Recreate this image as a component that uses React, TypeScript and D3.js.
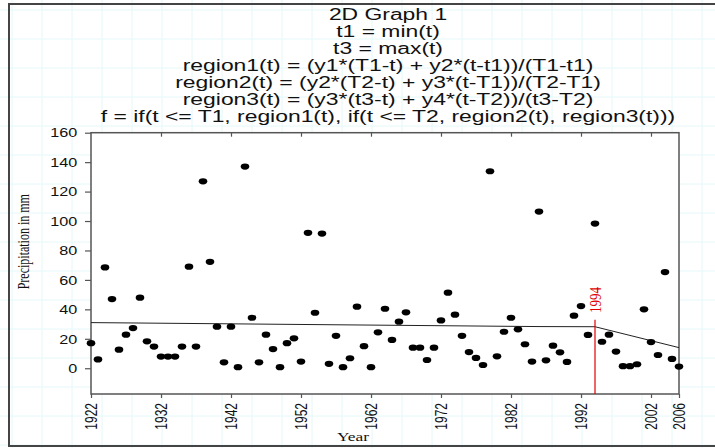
import { useRef, useEffect } from "react";
import * as d3 from "d3";

// annual precipitation (mm)
const years = [
  1922, 1923, 1924, 1925, 1926, 1927, 1928, 1929, 1930, 1931,
  1932, 1933, 1934, 1935, 1936, 1937, 1938, 1939, 1940, 1941,
  1942, 1943, 1944, 1945, 1946, 1947, 1948, 1949, 1950, 1951,
  1952, 1953, 1954, 1955, 1956, 1957, 1958, 1959, 1960, 1961,
  1962, 1963, 1964, 1965, 1966, 1967, 1968, 1969, 1970, 1971,
  1972, 1973, 1974, 1975, 1976, 1977, 1978, 1979, 1980, 1981,
  1982, 1983, 1984, 1985, 1986, 1987, 1988, 1989, 1990, 1991,
  1992, 1993, 1994, 1995, 1996, 1997, 1998, 1999, 2000, 2001,
  2002, 2003, 2004, 2005, 2006,
];

const precipitation = [
  17, 6, 68.5, 47, 12.6, 22.8, 27.3, 47.9, 18.3, 14.7,
  7.9, 7.9, 7.9, 14.7, 69, 14.7, 127, 72.3, 28.2, 4,
  28.2, 0.7, 137, 34.3, 4, 22.8, 13, 0.7, 17, 20.3,
  4.5, 92, 37.7, 91.5, 3, 22, 0.7, 6.8, 41.8, 15,
  0.7, 24.4, 40.4, 19.2, 31.6, 38, 14, 14, 5.6, 14,
  32.5, 51.3, 36.4, 22, 11, 7, 2.2, 133.8, 8.1, 24.8,
  34.3, 26.4, 16.3, 4.5, 106.4, 5.4, 15.3, 10.8, 4.3, 35.7,
  42.2, 22.6, 98.3, 18, 22.8, 11.3, 1.4, 1.4, 2.7, 40,
  17.8, 9, 65.3, 6.3, 1.1,
];

// piecewise linear fit (t1, T1, T2, t3)
const fitYears = [1922, 1986, 1994, 2006];
const fitValues = [31, 28.3, 28.2, 14];

const breakYear = 1994;
const breakTop = 33;

const yTicks = [0, 20, 40, 60, 80, 100, 120, 140, 160];
const xTicks = [1922, 1932, 1942, 1952, 1962, 1972, 1982, 1992, 2002, 2006];

const titleLines = [
  "2D Graph 1",
  "t1 = min(t)",
  "t3 = max(t)",
  "region1(t) = (y1*(T1-t) + y2*(t-t1))/(T1-t1)",
  "region2(t) = (y2*(T2-t) + y3*(t-T1))/(T2-T1)",
  "region3(t) = (y3*(t3-t) + y4*(t-T2))/(t3-T2)",
  "f = if(t <= T1, region1(t), if(t <= T2, region2(t), region3(t)))",
];

const W = 715;
const H = 448;
const SANS = "'Liberation Sans', Arial, sans-serif";
const SERIF = "'Liberation Serif', 'Times New Roman', serif";

const App = () => {
  const ref = useRef<SVGSVGElement>(null);

  useEffect(() => {
    if (!ref.current) return;
    const svg = d3.select(ref.current);
    svg.selectAll("*").remove();

    const left = 91;
    const right = 679;
    const top = 132.7;
    const bottom = 394;
    const axisColor = "#555";

    const x = d3.scaleLinear().domain([1922, 2006]).range([left, right]);
    const y = d3.scaleLinear().domain([-17.5, 160]).range([bottom, top]);

    // page background with faint graph-paper grid
    svg.append("rect").attr("width", W).attr("height", H).attr("fill", "#fff");
    const grid = svg.append("g").attr("stroke", "#e4f8f8").attr("stroke-width", 1);
    for (let gx = 12; gx < W; gx += 30) {
      grid.append("line").attr("x1", gx).attr("x2", gx).attr("y1", 0).attr("y2", H);
    }
    for (let gy = 10; gy < H; gy += 29) {
      grid.append("line").attr("x1", 0).attr("x2", W).attr("y1", gy).attr("y2", gy);
    }

    // outer page frame
    svg
      .append("rect")
      .attr("x", 9)
      .attr("y", 4)
      .attr("width", 712)
      .attr("height", 442)
      .attr("fill", "none")
      .attr("stroke", "#444")
      .attr("stroke-width", 2);

    // plot area
    svg
      .append("rect")
      .attr("x", left)
      .attr("y", top)
      .attr("width", right - left)
      .attr("height", bottom - top)
      .attr("fill", "#fff")
      .attr("stroke", axisColor)
      .attr("stroke-width", 1.5);

    // fitted line
    const line = d3
      .line<number>()
      .x((_d, i) => x(fitYears[i]))
      .y((d) => y(d));
    svg
      .append("path")
      .attr("d", line(fitValues))
      .attr("fill", "none")
      .attr("stroke", "#222")
      .attr("stroke-width", 1);

    // points
    svg
      .append("g")
      .selectAll("ellipse")
      .data(precipitation)
      .enter()
      .append("ellipse")
      .attr("cx", (_d: number, i: number) => x(years[i]))
      .attr("cy", (d: number) => y(d))
      .attr("rx", 4.3)
      .attr("ry", 3.1)
      .attr("fill", "#000");

    // break marker
    svg
      .append("line")
      .attr("x1", x(breakYear))
      .attr("x2", x(breakYear))
      .attr("y1", bottom)
      .attr("y2", y(breakTop))
      .attr("stroke", "#e00000")
      .attr("stroke-width", 1.2);
    svg
      .append("text")
      .attr("transform", `translate(${x(breakYear) + 6},313) scale(1.3,1) rotate(-90)`)
      .attr("fill", "#e00000")
      .style("font-family", SERIF)
      .style("font-size", "13px")
      .text(String(breakYear));

    // y axis
    svg
      .append("g")
      .attr("transform", `translate(${left},0)`)
      .call(d3.axisLeft(y).tickValues(yTicks).tickSize(6).tickPadding(0))
      // eslint-disable-next-line @typescript-eslint/no-explicit-any
      .call((g: any) => g.select(".domain").remove())
      // eslint-disable-next-line @typescript-eslint/no-explicit-any
      .call((g: any) => g.selectAll(".tick line").attr("stroke", axisColor).attr("stroke-width", 1.2))
      // eslint-disable-next-line @typescript-eslint/no-explicit-any
      .call((g: any) =>
        g
          .selectAll("text")
          .attr("x", 0)
          .attr("dy", "0.35em")
          .attr("transform", "translate(-13.7,0) scale(1.35,1)")
          .attr("fill", "#111")
          .style("text-anchor", "end")
          .style("font-family", SANS)
          .style("font-size", "12px")
      );

    // x axis
    svg
      .append("g")
      .attr("transform", `translate(0,${bottom})`)
      .call(d3.axisBottom(x).tickValues(xTicks).tickFormat(d3.format("d")).tickSize(4))
      // eslint-disable-next-line @typescript-eslint/no-explicit-any
      .call((g: any) => g.select(".domain").remove())
      // eslint-disable-next-line @typescript-eslint/no-explicit-any
      .call((g: any) => g.selectAll(".tick line").attr("stroke", axisColor).attr("stroke-width", 1.2))
      // eslint-disable-next-line @typescript-eslint/no-explicit-any
      .call((g: any) =>
        g
          .selectAll("text")
          .attr("x", 0)
          .attr("y", 0)
          .attr("dy", "0.35em")
          .attr("transform", "translate(0,9) scale(1.35,1) rotate(-90)")
          .attr("fill", "#111")
          .style("text-anchor", "end")
          .style("font-family", SANS)
          .style("font-size", "12px")
      );

    // inward ticks along the top
    svg
      .append("g")
      .attr("transform", `translate(0,${top})`)
      .call(d3.axisTop(x).tickValues(xTicks.slice(1, -1)).tickFormat(() => "").tickSize(-4))
      // eslint-disable-next-line @typescript-eslint/no-explicit-any
      .call((g: any) => g.select(".domain").remove())
      // eslint-disable-next-line @typescript-eslint/no-explicit-any
      .call((g: any) => g.selectAll(".tick line").attr("stroke", axisColor).attr("stroke-width", 1.2));

    // title block
    titleLines.forEach((t, i) => {
      svg
        .append("text")
        .attr("transform", `translate(388,${19.6 + i * 17.05}) scale(1.43,1)`)
        .attr("text-anchor", "middle")
        .attr("fill", "#111")
        .style("font-family", SANS)
        .style("font-size", "16px")
        .text(t);
    });

    // axis titles
    svg
      .append("text")
      .attr("transform", "translate(28.5,241.7) scale(1.4,1) rotate(-90)")
      .attr("text-anchor", "middle")
      .attr("fill", "#111")
      .style("font-family", SERIF)
      .style("font-size", "12px")
      .text("Precipitation in mm");

    svg
      .append("text")
      .attr("transform", "translate(353,441) scale(1.45,1)")
      .attr("text-anchor", "middle")
      .attr("fill", "#111")
      .style("font-family", SERIF)
      .style("font-size", "12px")
      .text("Year");

    return () => {
      svg.selectAll("*").remove();
    };
  }, []);

  return (
    <svg
      ref={ref}
      width={W}
      height={H}
      style={{ position: "absolute", left: 0, top: 0, display: "block" }}
    />
  );
};

export default App;
